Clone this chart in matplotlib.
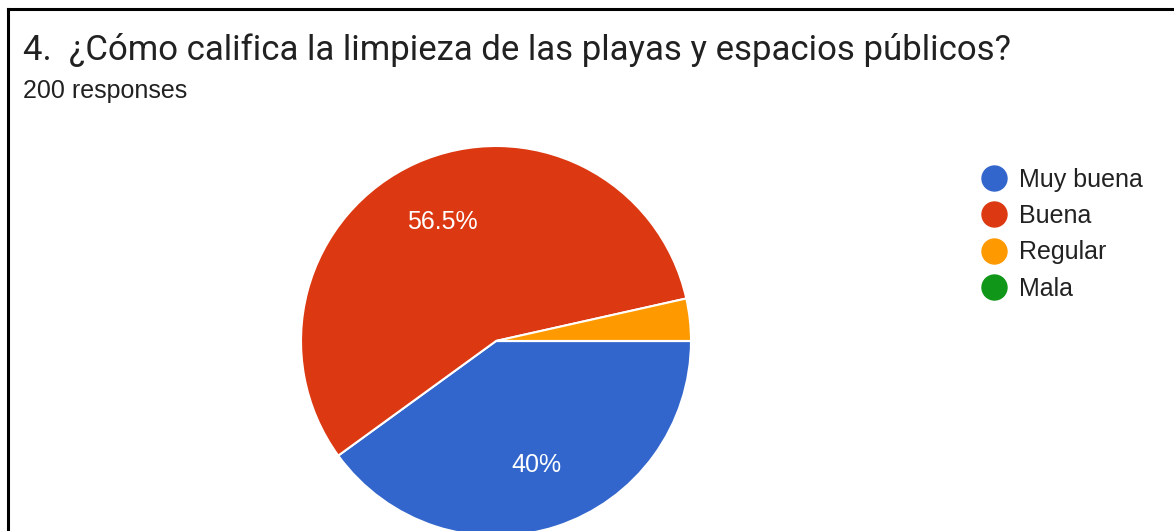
import matplotlib.pyplot as plt
from matplotlib.lines import Line2D

# Survey data
labels = ['Muy buena', 'Buena', 'Regular', 'Mala']
values = [80, 113, 7, 0]
colors = ['#3366cc', '#dc3912', '#ff9900', '#109618']
title = '4.  ¿Cómo califica la limpieza de las playas y espacios públicos?'
subtitle = '200 responses'

W, H = 1174, 531
fig = plt.figure(figsize=(W / 100, H / 100), dpi=100)

# pie axes placed in pixels: center (496, 341), radius 195
cx, cy, r = 496, 341, 195
ax = fig.add_axes([(cx - r) / W, (H - cy - r) / H, 2 * r / W, 2 * r / H])

def pct_fmt(p):
    if p < 5:
        return ''
    return ('%.1f%%' % p).replace('.0%', '%')

wedges, texts, autotexts = ax.pie(
    values, colors=colors, startangle=0, counterclock=False,
    autopct=pct_fmt, pctdistance=0.67,
    wedgeprops=dict(edgecolor='white', linewidth=1.5),
    textprops=dict(color='white', fontsize=18, family='Liberation Sans'),
    radius=1.0)
ax.set_xlim(-1, 1)
ax.set_ylim(-1, 1)
ax.set_aspect('equal')
ax.axis('off')
for w in wedges:
    w.set_clip_on(False)

# titles
fig.text(23 / W, 1 - 50 / H, title, fontsize=25, family='Roboto',
         color='#212121', va='center', ha='left')
fig.text(23 / W, 1 - 91 / H, subtitle, fontsize=18, family='Liberation Sans',
         color='#212121', va='center', ha='left')

# legend
handles = [Line2D([], [], marker='o', linestyle='none', markersize=18,
                  markerfacecolor=c, markeredgecolor=c) for c in colors]
fig.legend(handles, labels, loc='upper left', bbox_to_anchor=(955 / W, 1 - 145 / H),
           frameon=False, prop=dict(family='Liberation Sans', size=18),
           labelspacing=0.5, handletextpad=0.35, handlelength=1.3,
           labelcolor='#222222')

# frame lines (top and left)
fig.add_artist(Line2D([8 / W, 8 / W], [0, 1 - 9 / H], color='black', linewidth=2.2))
fig.add_artist(Line2D([8 / W, 1], [1 - 9 / H, 1 - 9 / H], color='black', linewidth=2.2))

fig.savefig('out.png', dpi=100)
